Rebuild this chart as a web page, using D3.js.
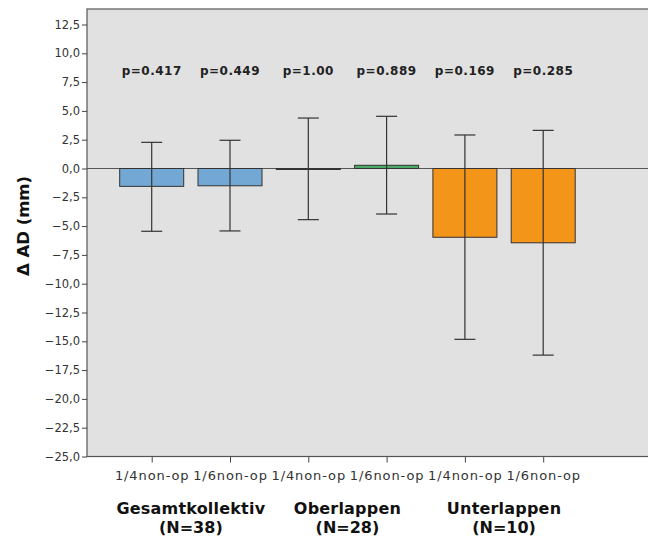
<!DOCTYPE html>
<html><head><meta charset="utf-8">
<script src="https://cdn.jsdelivr.net/npm/d3@7"></script>
<style>body{margin:0;background:#fff}</style>
</head><body>
<svg id="c" width="648" height="540"></svg>
<script>
const categories = ["1/4non-op","1/6non-op","1/4non-op","1/6non-op","1/4non-op","1/6non-op"];
const means = [-1.55, -1.5, -0.03, 0.28, -5.97, -6.45];
const errLow = [-5.45, -5.42, -4.44, -3.95, -14.83, -16.2];
const errHigh = [2.27, 2.45, 4.38, 4.53, 2.91, 3.31];
const pLabels = ["p=0.417","p=0.449","p=1.00","p=0.889","p=0.169","p=0.285"];
const barColors = ["#73a8d5","#73a8d5","#4aa867","#4aa867","#f39518","#f39518"];
const groupNames = ["Gesamtkollektiv","Oberlappen","Unterlappen"];
const groupN = ["(N=38)","(N=28)","(N=10)"];
const yTicks = [12.5,10,7.5,5,2.5,0,-2.5,-5,-7.5,-10,-12.5,-15,-17.5,-20,-22.5,-25];

const svg = d3.select("#c");
const L = 87, R = 660, T = 9, B = 456.5;
const ys = d3.scaleLinear().domain([-25, 12.5]).range([456.5, 24.5]);
const xs = d3.scalePoint().domain(d3.range(6)).range([151.7, 543.2]);

svg.append("rect").attr("x", L).attr("y", T).attr("width", R - L).attr("height", B - T)
  .attr("fill", "#e1e1e1").attr("stroke", "#555").attr("stroke-width", 1.2);

// zero line
svg.append("line").attr("x1", L).attr("x2", 648).attr("y1", ys(0)).attr("y2", ys(0))
  .attr("stroke", "#555").attr("stroke-width", 1.2);

// bars
const bw = 64;
const cx = i => xs(i);
categories.forEach((c, i) => {
  const v = means[i];
  svg.append("rect").attr("x", cx(i) - bw / 2).attr("width", bw)
    .attr("y", ys(Math.max(0, v))).attr("height", Math.max(1, Math.abs(ys(v) - ys(0))))
    .attr("fill", barColors[i]).attr("stroke", "#333").attr("stroke-width", 1);
  const g = svg.append("g").attr("stroke", "#333").attr("stroke-width", 1.2);
  g.append("line").attr("x1", cx(i)).attr("x2", cx(i)).attr("y1", ys(errHigh[i])).attr("y2", ys(errLow[i]));
  [errHigh[i], errLow[i]].forEach(e => g.append("line").attr("x1", cx(i) - 10.5).attr("x2", cx(i) + 10.5).attr("y1", ys(e)).attr("y2", ys(e)));
  svg.append("text").attr("x", cx(i)).attr("y", ys(8.1)).attr("text-anchor", "middle")
    .attr("font-family", "DejaVu Sans").attr("font-weight", "bold").attr("font-size", 12)
    .attr("letter-spacing", 0.5).attr("fill", "#222").text(pLabels[i]);
});

// y axis
const yAxis = d3.axisLeft(ys).tickValues(yTicks).tickSize(5).tickPadding(2)
  .tickFormat(d => d3.format(".1f")(d).replace(".", ",").replace("-", "\u2212"));
const ga = svg.append("g").attr("transform", `translate(${L},0)`).call(yAxis);
ga.select(".domain").remove();
ga.selectAll("line").attr("stroke", "#444");
ga.selectAll("text").attr("font-family", "DejaVu Sans").attr("font-size", 11.5).attr("fill", "#333");

// x axis
const xAxis = d3.axisBottom(xs).tickSize(6).tickPadding(0).tickFormat(i => categories[i]);
const gx = svg.append("g").attr("transform", `translate(0,${B})`).call(xAxis);
gx.select(".domain").remove();
gx.selectAll("line").attr("stroke", "#444");
gx.selectAll("text").attr("font-family", "DejaVu Sans").attr("font-size", 13)
  .attr("letter-spacing", 0.9).attr("fill", "#333").attr("dy", null).attr("y", 23.5);

svg.append("line").attr("x1", L).attr("x2", 648).attr("y1", B).attr("y2", B).attr("stroke", "#555").attr("stroke-width", 1.2);

// group labels
groupNames.forEach((g, k) => {
  const gxc = (cx(2 * k) + cx(2 * k + 1)) / 2;
  svg.append("text").attr("text-anchor", "middle").attr("font-family", "DejaVu Sans")
    .attr("font-weight", "bold").attr("font-size", 16).attr("fill", "#111")
    .attr("letter-spacing", 0.2).attr("x", gxc).attr("y", 514).text(g);
  svg.append("text").attr("text-anchor", "middle").attr("font-family", "DejaVu Sans")
    .attr("font-weight", "bold").attr("font-size", 16).attr("fill", "#111")
    .attr("x", gxc).attr("y", 533).text(groupN[k]);
});

// y title
svg.append("text").attr("transform", "translate(29,226) rotate(-90)").attr("text-anchor", "middle")
  .attr("font-family", "DejaVu Sans").attr("font-weight", "bold").attr("font-size", 16.5).attr("fill", "#111")
  .text("Δ AD (mm)");
</script>
</body></html>
